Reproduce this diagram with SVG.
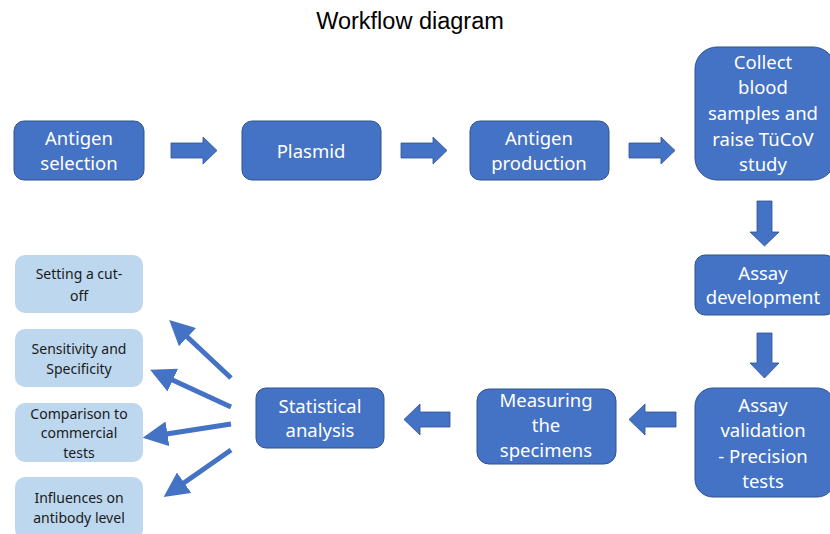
<svg xmlns="http://www.w3.org/2000/svg" width="830" height="534" viewBox="0 0 830 534">
<style>
.n{fill:#4472C4;stroke:#2F528F;stroke-width:1}
.l{fill:#BDD7EE;stroke:none}
.t{font-family:"Noto Sans","Open Sans",sans-serif;font-size:18.5px;fill:#ffffff;text-anchor:middle}
.s{font-family:"Noto Sans","Open Sans",sans-serif;font-size:14px;fill:#1a1a1a;text-anchor:middle}
.a{fill:#4472C4;stroke:#2F528F;stroke-width:0.8}
.d{stroke:#4472C4;stroke-width:5;fill:none}
</style>
<defs>
<marker id="ah" markerWidth="5" markerHeight="5" refX="1.5" refY="2.5" orient="auto" markerUnits="strokeWidth" viewBox="0 0 5 5">
<path d="M0,0 L5,2.5 L0,5 z" fill="#4472C4"/>
</marker>
</defs>
<rect width="830" height="534" fill="#ffffff"/>
<text x="410" y="29" font-family="Liberation Sans,Arial,sans-serif" font-size="23.5" text-anchor="middle" fill="#000">Workflow diagram</text>

<g id="n1"><rect class="n" x="14" y="121" width="130" height="59" rx="10"/><text class="t" x="79" y="145">Antigen</text><text class="t" x="79" y="170">selection</text></g>
<g id="n2"><rect class="n" x="242" y="121" width="139" height="59" rx="10"/><text class="t" x="311" y="158">Plasmid</text></g>
<g id="n3"><rect class="n" x="470" y="121" width="139" height="59" rx="10"/><text class="t" x="539" y="145">Antigen</text><text class="t" x="539" y="170">production</text></g>
<g id="n4"><rect class="n" x="695" y="47" width="140" height="133" rx="22"/><text class="t" x="763" y="69">Collect</text><text class="t" x="763" y="94">blood</text><text class="t" x="763" y="120">samples and</text><text class="t" x="763" y="146">raise TüCoV</text><text class="t" x="763" y="171">study</text></g>
<g id="n5"><rect class="n" x="695" y="255" width="140" height="60" rx="10"/><text class="t" x="763" y="280">Assay</text><text class="t" x="763" y="304">development</text></g>
<g id="n6"><rect class="n" x="695" y="388" width="140" height="109" rx="18"/><text class="t" x="763" y="412">Assay</text><text class="t" x="763" y="437">validation</text><text class="t" x="763" y="463">- Precision</text><text class="t" x="763" y="488">tests</text></g>
<g id="n7"><rect class="n" x="477" y="389" width="139" height="75" rx="12"/><text class="t" x="546" y="407">Measuring</text><text class="t" x="546" y="432">the</text><text class="t" x="546" y="457">specimens</text></g>
<g id="n8"><rect class="n" x="256" y="388" width="128" height="60" rx="10"/><text class="t" x="320" y="413">Statistical</text><text class="t" x="320" y="437">analysis</text></g>

<g id="o1"><rect class="l" x="15" y="255" width="128" height="58" rx="10"/><text class="s" x="79" y="279">Setting a cut-</text><text class="s" x="79" y="301">off</text></g>
<g id="o2"><rect class="l" x="15" y="329" width="128" height="58" rx="10"/><text class="s" x="79" y="354">Sensitivity and</text><text class="s" x="79" y="374">Specificity</text></g>
<g id="o3"><rect class="l" x="15" y="403" width="128" height="59" rx="10"/><text class="s" x="79" y="419">Comparison to</text><text class="s" x="79" y="438">commercial</text><text class="s" x="79" y="458">tests</text></g>
<g id="o4"><rect class="l" x="15" y="477" width="128" height="62" rx="10"/><text class="s" x="79" y="503">Influences on</text><text class="s" x="79" y="523">antibody level</text></g>

<g id="connectors">
<path class="a" d="M171,143 H203 V137 L217,150.5 L203,164 V158 H171 Z"/>
<path class="a" d="M401,143 H433 V137 L447,150.5 L433,164 V158 H401 Z"/>
<path class="a" d="M629,143 H661 V137 L675,150.5 L661,164 V158 H629 Z"/>
<path class="a" d="M757,201 H772 V232 H779 L764.5,246 L750,232 H757 Z"/>
<path class="a" d="M757,333 H772 V363 H779 L764.5,378 L750,363 H757 Z"/>
<path class="a" d="M676,412 H645 V404 L629,419.5 L645,435 V427 H676 Z"/>
<path class="a" d="M450,412 H420 V404 L404,419.5 L420,435 V427 H450 Z"/>
<line class="d" x1="231" y1="378" x2="182" y2="332" marker-end="url(#ah)"/>
<line class="d" x1="231" y1="407" x2="166" y2="377" marker-end="url(#ah)"/>
<line class="d" x1="231" y1="424" x2="160" y2="435" marker-end="url(#ah)"/>
<line class="d" x1="231" y1="450" x2="178" y2="487" marker-end="url(#ah)"/>
</g>
</svg>
